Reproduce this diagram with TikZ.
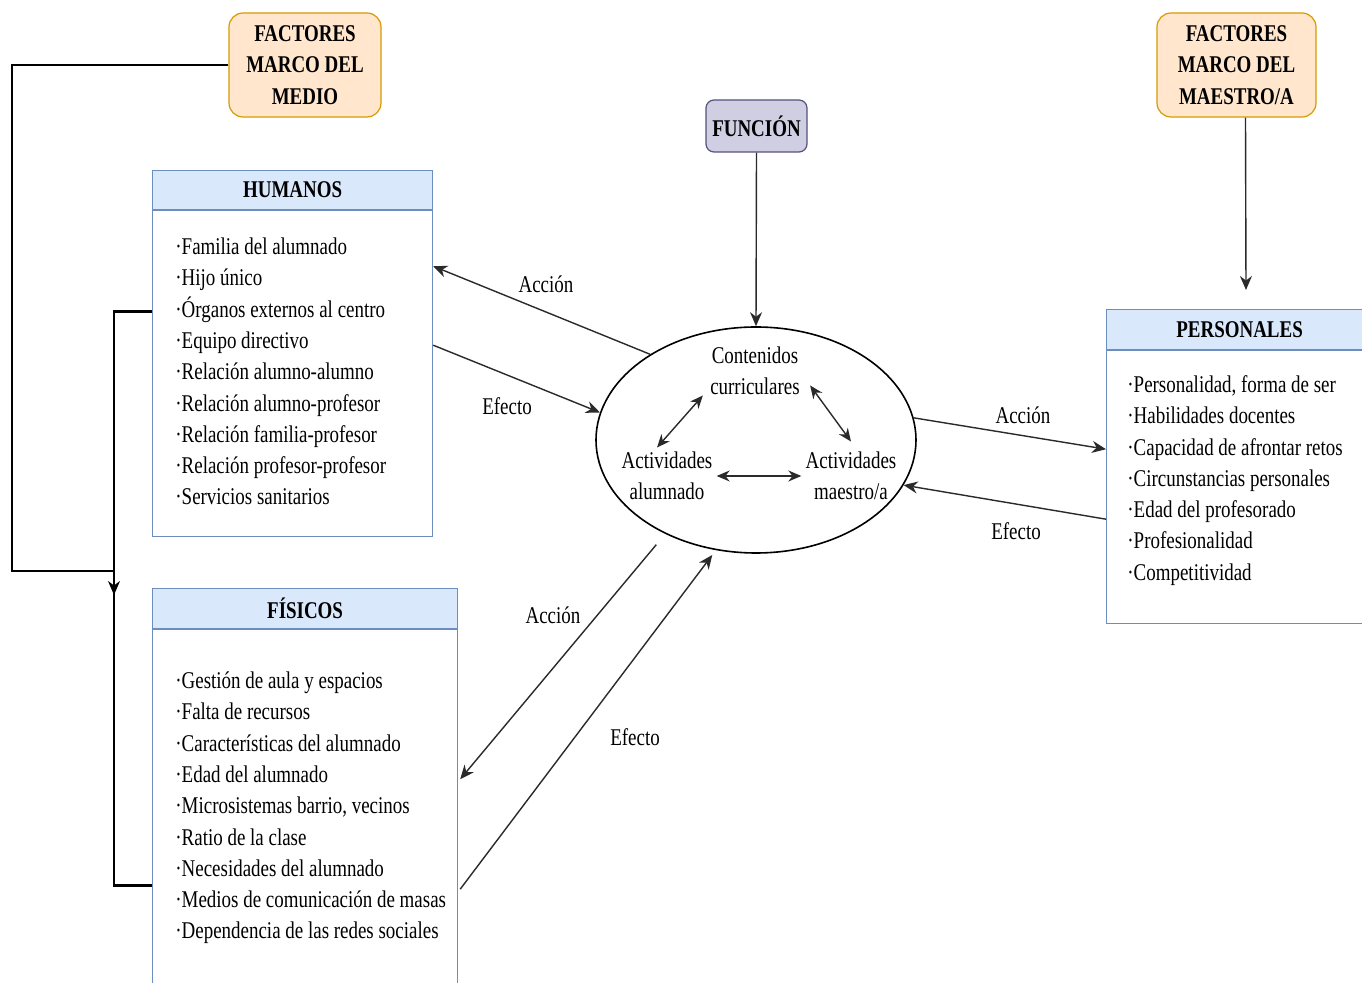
\documentclass[tikz,border=0pt]{standalone}
\usepackage{fontspec}
\setmainfont{Liberation Serif}[FakeStretch=0.79]
\usetikzlibrary{arrows.meta,shapes.geometric,positioning}
\definecolor{azulF}{HTML}{DAE8FC}
\definecolor{azulB}{HTML}{6C8EBF}
\definecolor{naranjaF}{HTML}{FFE6CC}
\definecolor{naranjaB}{HTML}{D79B00}
\definecolor{moradoF}{HTML}{D0CEE2}
\definecolor{moradoB}{HTML}{56517E}
\definecolor{gris}{HTML}{2A2A2A}
\newcommand{\letra}{\fontsize{12}{15.65}\selectfont}
\tikzset{
  marco/.style={draw=naranjaB,fill=naranjaF,rounded corners=7pt,line width=0.6pt,align=center,font=\letra\bfseries,inner sep=0pt},
  cabecera/.style={draw=azulB,fill=azulF,line width=0.6pt,font=\letra\bfseries,inner sep=0pt,anchor=north west},
  cuerpo/.style={draw=azulB,line width=0.6pt,inner sep=0pt},
  lista/.style={align=left,inner sep=0pt,anchor=west},
  texto/.style={align=center,inner sep=2pt},
  etiqueta/.style={inner sep=0pt},
  flecha/.style={draw=gris,line width=0.7pt,-{Stealth[length=7pt,width=6pt]}},
  doble/.style={draw=gris,line width=0.7pt,{Stealth[length=6.5pt,width=5.5pt]}-{Stealth[length=6.5pt,width=5.5pt]}},
  corchete/.style={draw=black,line width=1.4pt}
}
\begin{document}
\begin{tikzpicture}[x=0.5pt,y=-0.5pt,every node/.style={font=\letra}]
\clip (0,0) rectangle (1362,983);
\fill[white] (0,0) rectangle (1362,983);
% marcos superiores
\node[marco,minimum width=76pt,minimum height=52pt] (medio) at (305,65) {FACTORES\\MARCO DEL\\MEDIO};
\node[marco,minimum width=79.5pt,minimum height=52pt] (maestro) at (1236.5,65) {FACTORES\\MARCO DEL\\MAESTRO/A};
\node[draw=moradoB,fill=moradoF,rounded corners=4pt,line width=0.6pt,font=\letra\bfseries,inner sep=0pt,
      minimum width=50.5pt,minimum height=26pt] (funcion) at (756.5,126) {FUNCIÓN};
% humanos
\node[cabecera,minimum width=140pt,minimum height=19.5pt] (humanos) at (152,170) {HUMANOS};
\node[cuerpo,below=0pt of humanos,minimum width=140pt,minimum height=163pt] (humanosCuerpo) {};
\node[lista] (humanosLista) at (175,371.5) {·Familia del alumnado\\·Hijo único\\·Órganos externos al centro\\·Equipo directivo\\·Relación alumno-alumno\\·Relación alumno-profesor\\·Relación familia-profesor\\·Relación profesor-profesor\\·Servicios sanitarios};
% fisicos
\node[cabecera,minimum width=152.5pt,minimum height=20pt] (fisicos) at (152,588) {FÍSICOS};
\node[cuerpo,below=0pt of fisicos,minimum width=152.5pt,minimum height=200pt] (fisicosCuerpo) {};
\node[lista] (fisicosLista) at (175,808) {·Gestión de aula y espacios\\·Falta de recursos\\·Características del alumnado\\·Edad del alumnado\\·Microsistemas barrio, vecinos\\·Ratio de la clase\\·Necesidades del alumnado\\·Medios de comunicación de masas\\·Dependencia de las redes sociales};
% personales
\node[cabecera,minimum width=133pt,minimum height=20pt] (personales) at (1106,309) {PERSONALES};
\node[cuerpo,below=0pt of personales,minimum width=133pt,minimum height=136.5pt] (personalesCuerpo) {};
\node[lista] (personalesLista) at (1127,480.5) {·Personalidad, forma de ser\\·Habilidades docentes\\·Capacidad de afrontar retos\\·Circunstancias personales\\·Edad del profesorado\\·Profesionalidad\\·Competitividad};
% nucleo central
\node[draw=black,ellipse,line width=0.8pt,minimum width=160pt,minimum height=113pt,inner sep=0pt] (nucleo) at (756,440) {};
\node[texto] (contenidos) at (755,371) {Contenidos\\curriculares};
\node[texto] (actAlumnado) at (667,476) {Actividades\\alumnado};
\node[texto] (actMaestro) at (851,476) {Actividades\\maestro/a};
\draw[doble] ([xshift=-5pt]actAlumnado.north) -- ([xshift=-1.5pt,yshift=2pt]contenidos.south west);
\draw[doble] ([xshift=3pt,yshift=7pt]contenidos.south east) -- ([yshift=3pt]actMaestro.north);
\draw[doble] (actAlumnado.east) -- (actMaestro.west);
% conexiones
\coordinate (codo) at (114,571);
\coordinate (medioFin) at (114,595);
\coordinate (maestroFin) at (1246,290);
\draw[corchete] ([yshift=-50.5pt]humanosCuerpo.north west) -- ++(-19pt,0) |- ([yshift=-128pt]fisicosCuerpo.north west);
\draw[flecha,draw=black,line width=0.8pt] (medio.west) -| ([xshift=-51pt]codo) -- (codo) -- (medioFin);
\draw[flecha] (funcion.south) -- (nucleo.north);
\draw[flecha] ([xshift=4.5pt]maestro.south) -- (maestroFin);
\draw[flecha] (nucleo.141) -- ([yshift=-28pt]humanosCuerpo.north east);
\draw[flecha] ([yshift=-67.5pt]humanosCuerpo.north east) -- (nucleo.170);
\draw[flecha] (nucleo.8) -- ([yshift=-49.5pt]personalesCuerpo.north west);
\draw[flecha] ([yshift=-84.5pt]personalesCuerpo.north west) -- (nucleo.-17);
\draw[flecha,shorten <=7pt] (nucleo.-134) -- ([xshift=1pt,yshift=-75pt]fisicosCuerpo.north east);
\draw[flecha,shorten >=3pt] ([xshift=1pt,yshift=-130pt]fisicosCuerpo.north east) -- (nucleo.-110);
% etiquetas
\node[etiqueta] (lblAccionH) at (546,284) {Acción};
\node[etiqueta] (lblEfectoH) at (507,406) {Efecto};
\node[etiqueta] (lblAccionP) at (1023,415) {Acción};
\node[etiqueta] (lblEfectoP) at (1016,531) {Efecto};
\node[etiqueta] (lblAccionF) at (553,615) {Acción};
\node[etiqueta] (lblEfectoF) at (635,737) {Efecto};
\end{tikzpicture}
\end{document}
